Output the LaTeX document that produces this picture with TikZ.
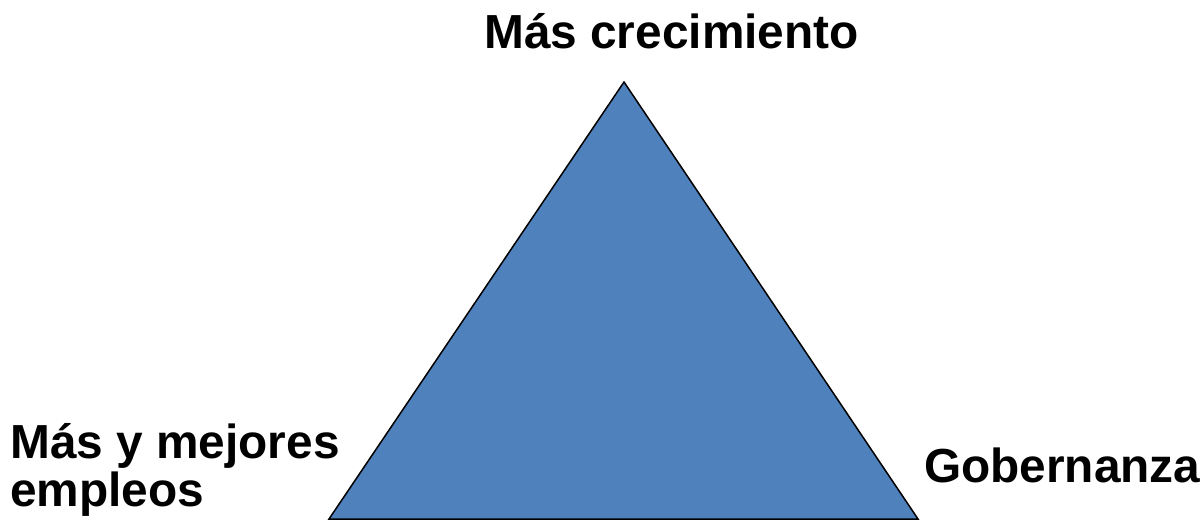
\documentclass[tikz,border=0pt]{standalone}
\usepackage{fontspec}
\setmainfont{Liberation Sans}
\definecolor{triblue}{HTML}{4F81BD}
\begin{document}
\begin{tikzpicture}[x=1pt,y=-1pt,
  lbl/.style={anchor=base west,inner sep=0pt,font=\fontsize{47.8}{48}\selectfont\bfseries,align=left},
  tri/.style={draw=black,line width=1.5pt,fill=triblue,line join=miter}]
\useasboundingbox (0,0) rectangle (1204,521);
\coordinate (apex) at (624,82);
\coordinate (bl) at (329,519);
\coordinate (br) at (918,519);
\filldraw[tri] (apex) -- (br) -- (bl) -- cycle;
\node[lbl] (top) at (484,49) {Más crecimiento};
\node[lbl] (left1) at (10,458) {Más y mejores};
\node[lbl] (left2) at (10,506) {empleos};
\node[lbl] (right) at (924,482) {Gobernanza};
\end{tikzpicture}
\end{document}
